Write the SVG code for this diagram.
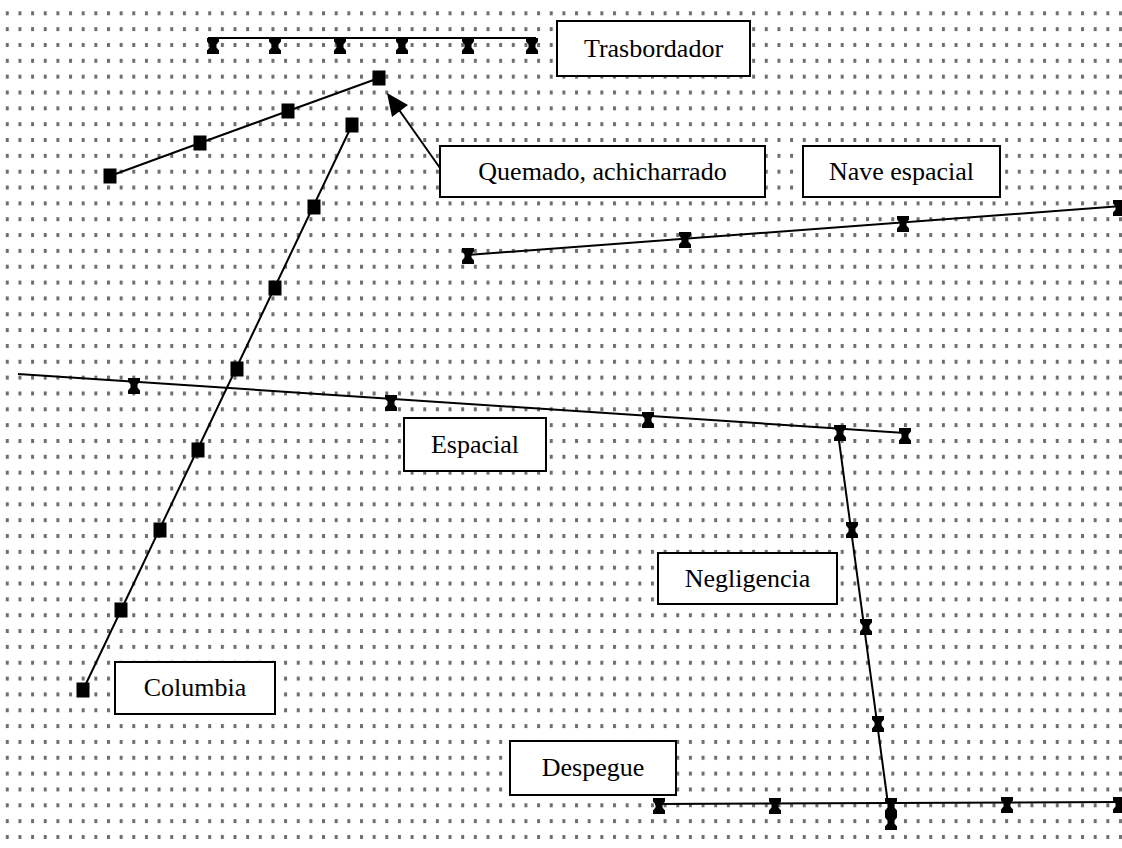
<svg xmlns="http://www.w3.org/2000/svg" xmlns:xlink="http://www.w3.org/1999/xlink" width="1122" height="848" viewBox="0 0 1122 848">
<style>
.box{fill:#fff;stroke:#000;stroke-width:2}
.lbl{font-family:"Liberation Serif","Times New Roman",serif;font-size:26px;fill:#000;text-anchor:middle}
.ln{fill:none;stroke:#000;stroke-width:2}
</style>
<defs>
<pattern id="dots" patternUnits="userSpaceOnUse" x="5.8" y="11.3" width="12.65" height="15.84">
<rect x="0" y="0" width="3" height="4" fill="#6e6e6e"/>
</pattern>
<path id="hg" d="M-6,-8 H6 V-4.5 L3.5,-1.5 V1.5 L6,4.5 V8 H-6 V4.5 L-3.5,1.5 V-1.5 L-6,-4.5 Z" fill="#000"/>
<rect id="sq" x="-6.5" y="-7.5" width="13" height="15" fill="#000"/>
</defs>
<rect width="1122" height="848" fill="#fff"/>
<rect x="0" y="0" width="1122" height="843" fill="url(#dots)"/>
<g id="connectors">
<line class="ln" x1="208" y1="38" x2="536" y2="38"/>
<use href="#hg" x="213" y="46"/><use href="#hg" x="275" y="46"/><use href="#hg" x="340" y="46"/>
<use href="#hg" x="402" y="46"/><use href="#hg" x="468" y="46"/><use href="#hg" x="532" y="46"/>
<polyline class="ln" points="110,176 200,143 288,111 379,78"/>
<use href="#sq" x="110" y="176"/><use href="#sq" x="200" y="143"/><use href="#sq" x="288" y="111"/><use href="#sq" x="379" y="78"/>
<line class="ln" x1="440" y1="168" x2="397" y2="107"/>
<polygon points="387,93 408,105 392,117" fill="#000"/>
<line class="ln" x1="83" y1="690" x2="352" y2="125"/>
<use href="#sq" x="83" y="690"/><use href="#sq" x="121" y="610"/><use href="#sq" x="160" y="530"/><use href="#sq" x="198" y="450"/>
<use href="#sq" x="237" y="369"/><use href="#sq" x="275" y="288"/><use href="#sq" x="314" y="207"/><use href="#sq" x="352" y="125"/>
<line class="ln" x1="467" y1="255" x2="1122" y2="206"/>
<use href="#hg" x="468" y="256"/><use href="#hg" x="685" y="240"/><use href="#hg" x="903" y="224"/><use href="#hg" x="1119" y="208"/>
<line class="ln" x1="18" y1="374" x2="905" y2="433"/>
<use href="#hg" x="134" y="386"/><use href="#hg" x="391" y="403"/><use href="#hg" x="648" y="420"/><use href="#hg" x="840" y="433"/><use href="#hg" x="905" y="436"/>
<line class="ln" x1="838" y1="433" x2="888" y2="804"/>
<use href="#hg" x="852" y="530"/><use href="#hg" x="866" y="627"/><use href="#hg" x="878" y="724"/>
<line class="ln" x1="655" y1="804" x2="1122" y2="802"/>
<use href="#hg" x="659" y="806"/><use href="#hg" x="775" y="806"/><use href="#hg" x="891" y="806"/><use href="#hg" x="891" y="822"/>
<use href="#hg" x="1007" y="805"/><use href="#hg" x="1119" y="805"/>
</g>
<g id="n-trasbordador"><rect class="box" x="557" y="21" width="193" height="55"/><text class="lbl" x="653.5" y="57">Trasbordador</text></g>
<g id="n-quemado"><rect class="box" x="440" y="146" width="325" height="51"/><text class="lbl" x="602.5" y="180">Quemado, achicharrado</text></g>
<g id="n-nave"><rect class="box" x="803" y="146" width="197" height="51"/><text class="lbl" x="901.5" y="180">Nave espacial</text></g>
<g id="n-espacial"><rect class="box" x="404" y="418" width="142" height="53"/><text class="lbl" x="475" y="453">Espacial</text></g>
<g id="n-negligencia"><rect class="box" x="658" y="553" width="179" height="51"/><text class="lbl" x="747.5" y="587">Negligencia</text></g>
<g id="n-columbia"><rect class="box" x="115" y="662" width="160" height="52"/><text class="lbl" x="195" y="696">Columbia</text></g>
<g id="n-despegue"><rect class="box" x="510" y="741" width="166" height="54"/><text class="lbl" x="593" y="776">Despegue</text></g>
</svg>
